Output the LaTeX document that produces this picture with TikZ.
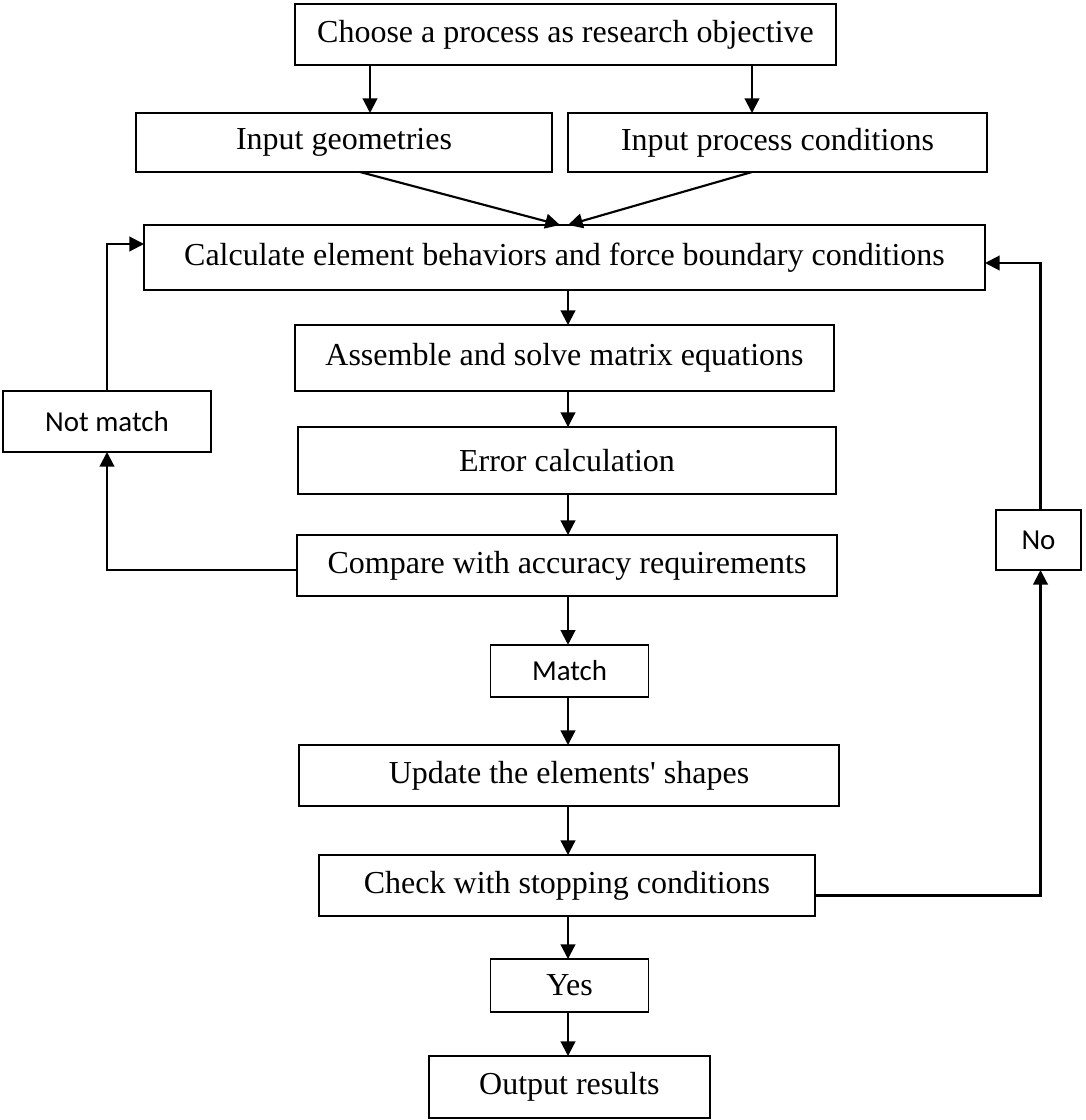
\documentclass[tikz,border=0pt]{standalone}
\usepackage{fontspec}
\setmainfont{Liberation Serif}
\newfontfamily\sansf{Carlito}
\usetikzlibrary{arrows.meta,calc}
\begin{document}
\begin{tikzpicture}[x=0.75pt,y=-0.75pt,
  box/.style={draw,line width=1.3pt,rectangle,inner sep=0pt,outer sep=0pt,align=center,font=\fontsize{24}{28}\selectfont},
  sbox/.style={box,font=\sansf\fontsize{21.7}{26}\selectfont},
  arr/.style={line width=1.6pt,-{Triangle[length=11pt,width=11pt]}}]
\useasboundingbox (0,0) rectangle (1085,1120);
\node[box,minimum width=405.75pt,minimum height=45.75pt] (choose) at (565.5,34.5) {Choose a process as research objective};
\node[box,minimum width=312pt,minimum height=44.25pt] (geom) at (344,142.5) {Input geometries};
\node[box,minimum width=314.25pt,minimum height=44.25pt] (ipc) at (777.5,142.5) {Input process conditions};
\node[box,minimum width=630.75pt,minimum height=48.75pt] (calc) at (564.5,257.5) {Calculate element behaviors and force boundary conditions};
\node[box,minimum width=404.25pt,minimum height=49.5pt] (assemble) at (564.5,358) {Assemble and solve matrix equations};
\node[box,minimum width=404pt,minimum height=50.25pt] (error) at (567,460.5) {Error calculation};
\node[box,minimum width=405pt,minimum height=45.75pt] (compare) at (567,565.5) {Compare with accuracy requirements};
\node[sbox,minimum width=155.6pt,minimum height=45.75pt] (notmatch) at (107,421.5) {Not match};
\node[sbox,minimum width=63.75pt,minimum height=45pt] (no) at (1038.5,540) {No};
\node[sbox,minimum width=118.5pt,minimum height=39.4pt] (match) at (569.6,671) {Match};
\node[box,minimum width=405pt,minimum height=45.75pt] (update) at (569,775.5) {Update the elements\textquotesingle{} shapes};
\node[box,minimum width=372.4pt,minimum height=45.75pt] (check) at (567,885.5) {Check with stopping conditions};
\node[box,minimum width=118.5pt,minimum height=39.75pt] (yes) at (569.6,985.5) {Yes};
\node[box,minimum width=210.75pt,minimum height=46.5pt] (output) at (569.4,1087) {Output results};
\coordinate (spine) at (568,0);
\coordinate (g1) at ($(geom.north)+(26,0)$);
\coordinate (i1) at ($(ipc.north)+(-25.5,0)$);
\draw[arr] (g1 |- choose.south) -- (g1);
\draw[arr] (i1 |- choose.south) -- (i1);
\draw[arr] ($(geom.south)+(16,0)$) -- ($(calc.north)+(-4.5,0)$);
\draw[arr] ($(ipc.south)+(-25.5,0)$) -- ($(calc.north)+(3.5,0)$);
\draw[arr] (calc.south -| spine) -- (assemble.north -| spine);
\draw[arr] (assemble.south -| spine) -- (error.north -| spine);
\draw[arr] (error.south -| spine) -- (compare.north -| spine);
\draw[arr] (compare.south -| spine) -- (match.north -| spine);
\draw[arr] (match.south -| spine) -- (update.north -| spine);
\draw[arr] (update.south -| spine) -- (check.north -| spine);
\draw[arr] (check.south -| spine) -- (yes.north -| spine);
\draw[arr] (yes.south -| spine) -- (output.north -| spine);
\draw[arr] ($(compare.west)+(0,4.5)$) -| (notmatch.south);
\draw[arr] (notmatch.north) |- ($(calc.west)+(0,-13.5)$);
\draw[arr] ($(check.east)+(0,10)$) -| ($(no.south)+(2,0)$);
\draw[arr] ($(no.north)+(2,0)$) |- ($(calc.east)+(0,5.5)$);
\end{tikzpicture}
\end{document}
